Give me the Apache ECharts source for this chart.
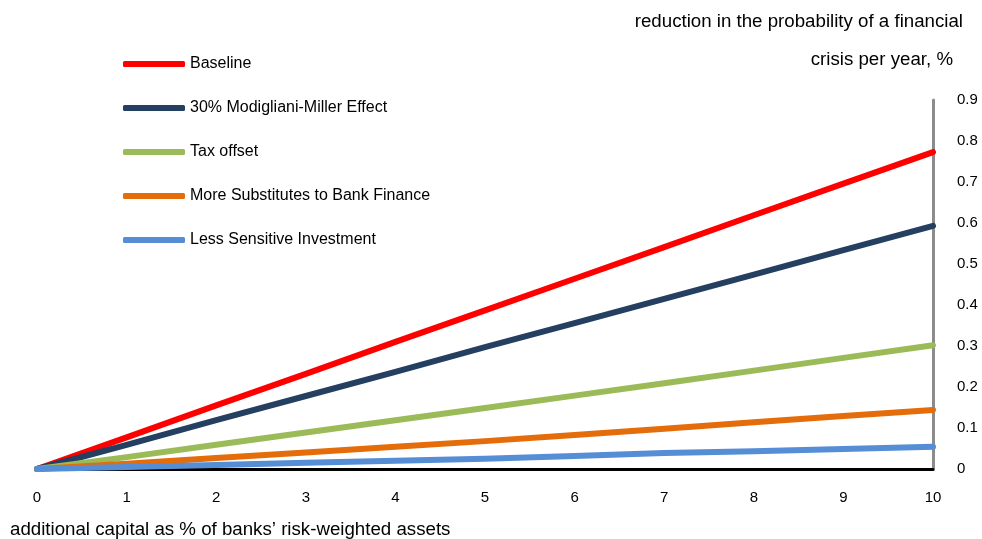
<!DOCTYPE html>
<html>
<head>
<meta charset="utf-8">
<script src="https://cdn.jsdelivr.net/npm/echarts@6/dist/echarts.min.js"></script>
<style>
  html, body { margin: 0; padding: 0; background: #fff; }
  #main { width: 982px; height: 539px; }
</style>
</head>
<body>
<div id="main"></div>
<script>
// additional capital, % of RWA
var xLabels = ['0', '1', '2', '3', '4', '5', '6', '7', '8', '9', '10'];
var yTicks = [0, 0.9, 0.1]; // min, max, step

var seriesNames = ['Baseline', '30% Modigliani-Miller Effect', 'Tax offset',
    'More Substitutes to Bank Finance', 'Less Sensitive Investment'];
var seriesColors = ['#ff0000', '#243f60', '#9bbb59', '#e46c0a', '#558ed5'];

var baseline = [0, 0.077, 0.155, 0.232, 0.310, 0.387, 0.464, 0.541, 0.619, 0.696, 0.773];
var mmEffect = [0, 0.059, 0.119, 0.178, 0.237, 0.297, 0.356, 0.415, 0.474, 0.534, 0.593];
var taxOffset = [0, 0.029, 0.059, 0.089, 0.119, 0.149, 0.179, 0.209, 0.240, 0.271, 0.302];
var moreSubst = [0, 0.013, 0.027, 0.040, 0.054, 0.068, 0.083, 0.098, 0.114, 0.129, 0.144];
var lessSens = [0, 0.005, 0.010, 0.015, 0.020, 0.025, 0.032, 0.039, 0.043, 0.049, 0.054];

var allData = [baseline, mmEffect, taxOffset, moreSubst, lessSens];

var font = 'Liberation Sans, Arial, sans-serif';

var series = [];
for (var i = 0; i < allData.length; i++) {
    series.push({
        name: seriesNames[i],
        type: 'line',
        data: allData[i],
        showSymbol: false,
        smooth: false,
        color: seriesColors[i],
        lineStyle: { width: 6, cap: 'round', join: 'round', color: seriesColors[i] }
    });
}

var myChart = echarts.init(document.getElementById('main'));
var option = {
    backgroundColor: '#ffffff',
    animation: false,
    grid: { left: 37, right: 49, top: 100, bottom: 70 },
    legend: {
        orient: 'vertical',
        left: 118,
        top: 51,
        itemWidth: 62,
        itemHeight: 6,
        itemGap: 28,
        icon: 'roundRect',
        data: seriesNames,
        textStyle: { fontFamily: font, fontSize: 16, color: '#000', lineHeight: 16 }
    },
    xAxis: {
        type: 'category',
        data: xLabels,
        boundaryGap: false,
        axisLine: { lineStyle: { color: '#000', width: 3 } },
        axisTick: { show: false },
        axisLabel: { fontFamily: font, fontSize: 15, color: '#000', margin: 21 },
        splitLine: { show: false }
    },
    yAxis: {
        type: 'value',
        position: 'right',
        min: yTicks[0],
        max: yTicks[1],
        interval: yTicks[2],
        axisLine: { show: true, lineStyle: { color: '#8c8c8c', width: 3 } },
        axisTick: { show: false },
        axisLabel: { fontFamily: font, fontSize: 15, color: '#000', margin: 24 },
        splitLine: { show: false }
    },
    graphic: [
        {
            type: 'text', right: 19, top: 12,
            style: { text: 'reduction in the probability of a financial', font: '18.7px ' + font, fill: '#000' }
        },
        {
            type: 'text', right: 29, top: 50,
            style: { text: 'crisis per year, %', font: '18.7px ' + font, fill: '#000' }
        },
        {
            type: 'text', left: 10, top: 520,
            style: { text: 'additional capital as % of banks\u2019 risk-weighted assets', font: '18.7px ' + font, fill: '#000' }
        }
    ],
    series: series
};
myChart.setOption(option);
</script>
</body>
</html>
